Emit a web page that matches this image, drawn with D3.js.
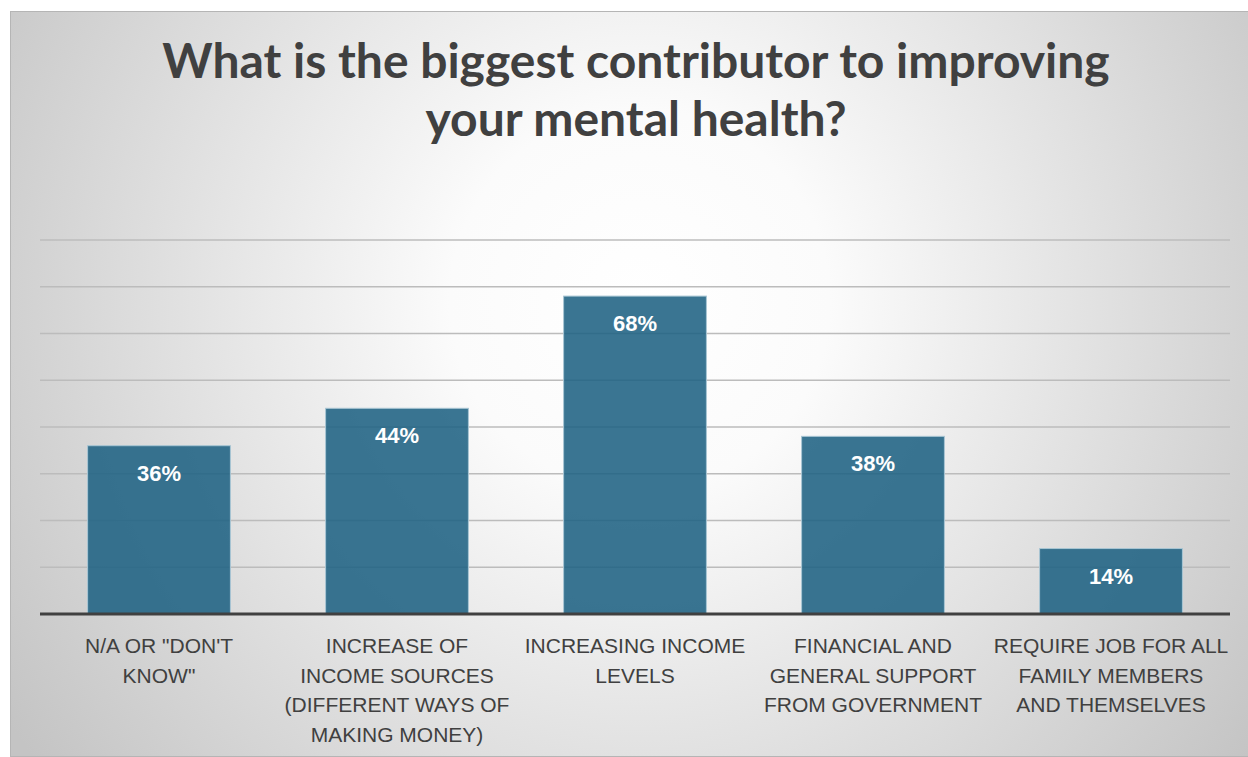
<!DOCTYPE html>
<html>
<head>
<meta charset="utf-8">
<script src="https://cdn.jsdelivr.net/npm/d3@7/dist/d3.min.js"></script>
<style>
  html, body { margin: 0; padding: 0; background: #ffffff; }
  svg { display: block; }
</style>
</head>
<body>
<svg id="chart" width="1248" height="757"></svg>
<script>
// Survey answers and their shares (percent)
const categories = [
  ["N/A OR \"DON'T", "KNOW\""],
  ["INCREASE OF", "INCOME SOURCES", "(DIFFERENT WAYS OF", "MAKING MONEY)"],
  ["INCREASING INCOME", "LEVELS"],
  ["FINANCIAL AND", "GENERAL SUPPORT", "FROM GOVERNMENT"],
  ["REQUIRE JOB FOR ALL", "FAMILY MEMBERS", "AND THEMSELVES"]
];
const values = [36, 44, 68, 38, 14];
const gridTicks = [10, 20, 30, 40, 50, 60, 70, 80];
const titleLines = ["What is the biggest contributor to improving", "your mental health?"];

const W = 1248, H = 757;
const svg = d3.select("#chart");

// Panel background with soft radial shading
const defs = svg.append("defs");
const grad = defs.append("radialGradient")
  .attr("id", "bg").attr("gradientUnits", "userSpaceOnUse")
  .attr("cx", 640).attr("cy", 300).attr("r", 760);
grad.append("stop").attr("offset", "0%").attr("stop-color", "#ffffff");
grad.append("stop").attr("offset", "25%").attr("stop-color", "#fbfbfb");
grad.append("stop").attr("offset", "100%").attr("stop-color", "#c4c4c4");

svg.append("rect")
  .attr("x", 10.5).attr("y", 11.5).attr("width", W - 10).attr("height", H - 12)
  .attr("fill", "url(#bg)").attr("stroke", "#b5b5b5").attr("stroke-width", 1);

// Title
const title = svg.append("text")
  .attr("text-anchor", "middle")
  .attr("font-family", "Lato, 'Liberation Sans', sans-serif")
  .attr("font-weight", 700)
  .attr("font-size", 48)
  .attr("fill", "#404040");
title.selectAll("tspan").data(titleLines).join("tspan")
  .attr("x", 636)
  .attr("y", (d, i) => 78 + i * 58)
  .text(d => d);

// Scales
const x = d3.scaleBand().domain(d3.range(values.length)).range([40, 1230]).paddingInner(0.4).paddingOuter(0.2);
const y = d3.scaleLinear().domain([0, 80]).range([614, 240]);

// Gridlines
svg.append("g").selectAll("line").data(gridTicks).join("line")
  .attr("x1", 40).attr("x2", 1230)
  .attr("y1", d => y(d)).attr("y2", d => y(d))
  .attr("stroke", "#bcbcbc").attr("stroke-width", 1.5);

// Bars (slightly translucent so gridlines show through)
svg.append("g").selectAll("rect").data(values).join("rect")
  .attr("x", (d, i) => x(i))
  .attr("width", x.bandwidth())
  .attr("y", d => y(d))
  .attr("height", d => y(0) - y(d))
  .attr("fill", "#1f6283").attr("fill-opacity", 0.88)
  .attr("stroke", "#a9c6d4").attr("stroke-width", 1);

// Baseline axis
const axis = svg.append("g").attr("transform", `translate(0,${y(0)})`)
  .call(d3.axisBottom(x).tickSize(0).tickFormat(""));
axis.select(".domain").attr("d", "M40,0H1230").attr("stroke", "#404040").attr("stroke-width", 3);

// Value labels inside bars
svg.append("g").selectAll("text").data(values).join("text")
  .attr("x", (d, i) => x(i) + x.bandwidth() / 2)
  .attr("y", d => y(d) + 35)
  .attr("text-anchor", "middle")
  .attr("font-family", "'Liberation Sans', Arial, sans-serif")
  .attr("font-weight", 700)
  .attr("font-size", 22)
  .attr("fill", "#ffffff")
  .text(d => d + "%");

// Category labels
const cat = svg.append("g").selectAll("text").data(categories).join("text")
  .attr("text-anchor", "middle")
  .attr("font-family", "'Liberation Sans', Arial, sans-serif")
  .attr("font-size", 21)
  .attr("fill", "#404040");
cat.selectAll("tspan").data((d, i) => d.map(t => ({ t, i }))).join("tspan")
  .attr("x", d => x(d.i) + x.bandwidth() / 2)
  .attr("y", (d, j) => 653 + j * 29.5)
  .text(d => d.t);
</script>
</body>
</html>
